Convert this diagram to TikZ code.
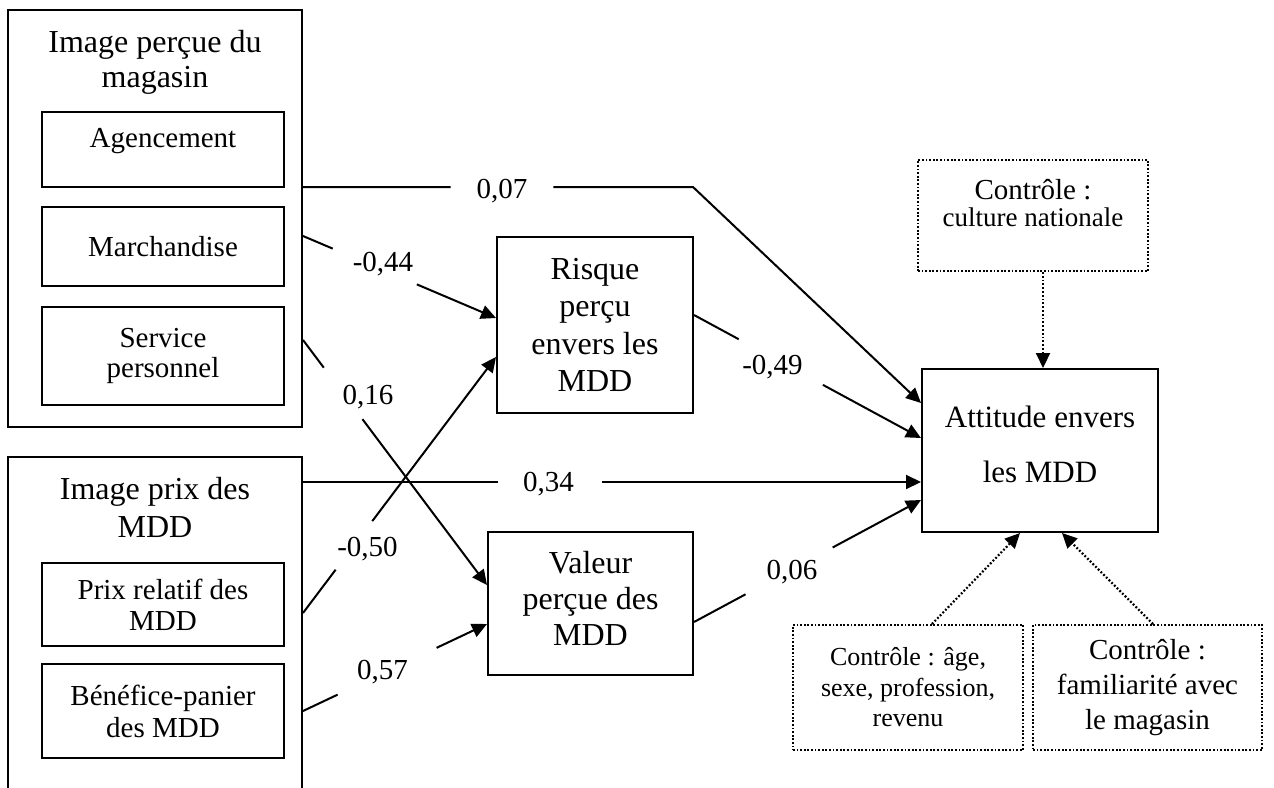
\documentclass[tikz,border=0pt]{standalone}
\usepackage{fontspec}
\setmainfont{Liberation Serif}
\usetikzlibrary{arrows.meta,calc}
\tikzset{
  box/.style={draw, line width=1pt, inner sep=0pt, align=center},
  dbox/.style={draw, line width=1pt, dash pattern=on 0.9pt off 0.9pt, inner sep=0pt, align=center},
  txt/.style={inner sep=0pt, align=center},
  num/.style={inner sep=0pt, font=\fontsize{14.5}{17}\selectfont},
  conn/.style={line width=1pt, -{Triangle[length=7.5pt,width=7pt]}},
  dconn/.style={line width=1.1pt, dash pattern=on 0.9pt off 1pt, -{Triangle[length=7.5pt,width=7pt]}},
}
\begin{document}
\begin{tikzpicture}[x=0.5pt,y=-0.5pt]
\useasboundingbox (0,0) rectangle (1274,787);
\clip (0,0) rectangle (1274,787);

% left group 1
\node[box, minimum width=147pt, minimum height=208.5pt] (img1) at (155,218.5) {};
\node[txt, font=\fontsize{16}{17.5}\selectfont] (t1) at (155,62) {Image perçue du\\magasin};
\node[box, minimum width=121pt, minimum height=37.5pt, text depth=12pt, font=\fontsize{14.5}{15}\selectfont] (agen) at (163,149.5) {Agencement};
\node[box, minimum width=121pt, minimum height=39.5pt, font=\fontsize{14.5}{15}\selectfont] (march) at (163,246.5) {Marchandise};
\node[box, minimum width=121pt, minimum height=49pt, font=\fontsize{14.5}{15}\selectfont] (serv) at (163,356) {Service\\personnel};

% left group 2
\node[box, minimum width=147pt, minimum height=190pt] (img2) at (155,647) {};
\node[txt, font=\fontsize{16}{19}\selectfont] (t2) at (155,507) {Image prix des\\MDD};
\node[box, minimum width=121pt, minimum height=41.5pt, font=\fontsize{14.5}{15.5}\selectfont] (prix) at (163,604.5) {Prix relatif des\\MDD};
\node[box, minimum width=121pt, minimum height=47pt, font=\fontsize{14.5}{16}\selectfont] (bene) at (163,711) {Bénéfice-panier\\des MDD};

% mediators
\node[box, minimum width=98pt, minimum height=88pt, font=\fontsize{16}{18.75}\selectfont] (risk) at (595,325) {Risque\\perçu\\envers les\\MDD};
\node[box, minimum width=102.5pt, minimum height=71.5pt, text depth=5pt, font=\fontsize{16}{18}\selectfont] (val) at (590.5,603.5) {Valeur\\perçue des\\MDD};

% outcome
\node[box, minimum width=118pt, minimum height=81.5pt, text depth=6pt, font=\fontsize{15.5}{27.5}\selectfont] (att) at (1040,450.5) {Attitude envers\\les MDD};

% controls
\node[dbox, minimum width=115pt, minimum height=55.5pt] (cult) at (1033,215.5) {};
\node[txt, font=\fontsize{14.5}{13.5}\selectfont] (cultt) at (1033,203) {Contrôle :\\{\fontsize{13.5}{13.5}\selectfont culture nationale}};
\node[dbox, minimum width=115pt, minimum height=62.5pt, font=\fontsize{13}{15.25}\selectfont] (age) at (908,687.5) {Contrôle : âge,\\sexe, profession,\\revenu};
\node[dbox, minimum width=114.5pt, minimum height=62.5pt, font=\fontsize{14.5}{17.5}\selectfont] (fam) at (1147.5,687.5) {Contrôle :\\familiarité avec\\le magasin};

% connector end points
\coordinate (s07) at (img1.east |- 0,187);
\coordinate (c07) at (693,187);
\coordinate (e07) at (att.west |- 0,403);
\coordinate (s44) at (img1.east |- 0,236);
\coordinate (e44) at (risk.west |- 0,318);
\coordinate (s16) at (img1.east |- 0,340);
\coordinate (e16) at (val.west |- 0,585);
\coordinate (s34) at (img2.east |- 0,482);
\coordinate (e34) at (att.west |- 0,482);
\coordinate (s50) at (img2.east |- 0,613);
\coordinate (e50) at (risk.west |- 0,357);
\coordinate (s57) at (img2.east |- 0,711);
\coordinate (e57) at (val.west |- 0,624);
\coordinate (s49) at (risk.east |- 0,315);
\coordinate (e49) at (att.west |- 0,438);
\coordinate (s06) at (val.east |- 0,622);
\coordinate (e06) at (att.west |- 0,500);

% connectors (with gaps for the coefficients)
\draw[conn] (s07) -- ($(s07)!0.3785!(c07)$) ($(s07)!0.642!(c07)$) -- (c07) -- (e07);
\draw[conn] (s44) -- ($(s44)!0.154!(e44)$) ($(s44)!0.59!(e44)$) -- (e44);
\draw[conn] (s16) -- ($(s16)!0.113!(e16)$) ($(s16)!0.323!(e16)$) -- (e16);
\draw[conn] (s34) -- ($(s34)!0.315!(e34)$) ($(s34)!0.484!(e34)$) -- (e34);
\draw[conn] (s50) -- ($(s50)!0.169!(e50)$) ($(s50)!0.359!(e50)$) -- (e50);
\draw[conn] (s57) -- ($(s57)!0.188!(e57)$) ($(s57)!0.726!(e57)$) -- (e57);
\draw[conn] (s49) -- ($(s49)!0.197!(e49)$) ($(s49)!0.568!(e49)$) -- (e49);
\draw[conn] (s06) -- ($(s06)!0.227!(e06)$) ($(s06)!0.611!(e06)$) -- (e06);

% coefficients
\node[num] (n07) at (502,191) {0,07};
\node[num] (n44) at (383,264) {-0,44};
\node[num] (n16) at (368,397) {0,16};
\node[num] (n34) at (548.5,484) {0,34};
\node[num] (n50) at (367.5,549) {-0,50};
\node[num] (n57) at (382.5,672.5) {0,57};
\node[num] (n49) at (772.5,367) {-0,49};
\node[num] (n06) at (792,572.5) {0,06};

% dotted control arrows
\draw[dconn] (cult.south -| 1043,0) -- (att.north -| 1043,0);
\draw[dconn] (age.north -| 932,0) -- (att.south -| 1020,0);
\draw[dconn] (fam.north -| 1153,0) -- (att.south -| 1062,0);
\end{tikzpicture}
\end{document}
